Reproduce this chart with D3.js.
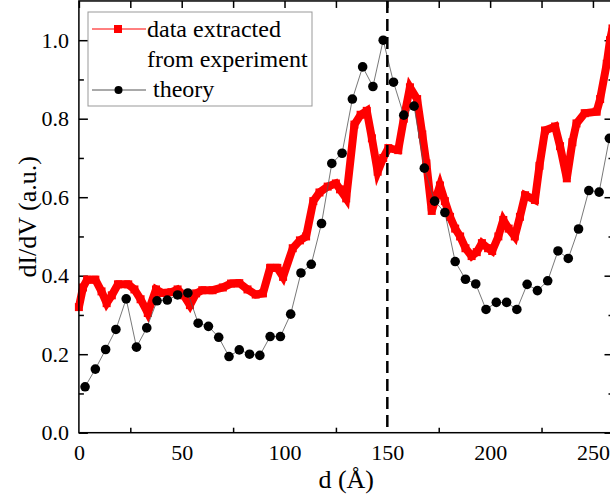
<!DOCTYPE html>
<html lang="en">
<head>
  <meta charset="utf-8">
  <title>dI/dV vs d</title>
  <script src="https://cdn.jsdelivr.net/npm/d3@7"></script>
  <style>
    body { margin: 0; background: #fff; }
    svg { display: block; font-family: "Liberation Serif", "Times New Roman", serif; }
    .axis path { display: none; }
    .axis line { stroke: #000; stroke-width: 1.5; }
    .axis text { font-size: 22px; fill: #000; font-family: "Liberation Serif", "Times New Roman", serif; }
  </style>
</head>
<body>
<script>
  // experiment (red, dense squares)
  const expX = [0, 2, 4, 8, 11, 13.5, 16, 19, 24, 27, 30, 33.5, 37.5, 40.5, 45, 48, 51, 54, 57, 60,
    65, 70, 74, 78, 82, 86, 89.5, 93, 96.5, 99.3, 104, 107.5, 110.5, 114, 117, 121, 125, 127, 130, 134,
    137, 140, 142.5, 145.3, 148, 150.5, 155.3, 158, 161, 164.5, 167, 169, 171.6, 175.6, 178, 180.5, 183, 185.4, 188, 191,
    193.5, 196, 199, 201, 204, 206.4, 209, 212, 214.5, 217, 221.8, 224, 226.7, 231.6, 234, 237.3, 240, 242, 246, 251.8,
    253.5, 256.7, 258.3, 259.5];
  const expY = [0.32, 0.37, 0.39, 0.39, 0.36, 0.33, 0.35, 0.378, 0.378, 0.365, 0.34, 0.305, 0.365, 0.356, 0.358, 0.365, 0.35, 0.325, 0.355, 0.363,
    0.363, 0.37, 0.38, 0.381, 0.365, 0.352, 0.355, 0.42, 0.42, 0.397, 0.47, 0.49, 0.5, 0.59, 0.612, 0.627, 0.635, 0.62, 0.597, 0.785,
    0.81, 0.82, 0.75, 0.665, 0.7, 0.725, 0.72, 0.8, 0.88, 0.85, 0.76, 0.686, 0.565, 0.63, 0.59, 0.55, 0.52, 0.5, 0.47, 0.45,
    0.46, 0.483, 0.47, 0.463, 0.5, 0.542, 0.52, 0.5, 0.55, 0.605, 0.593, 0.68, 0.77, 0.78, 0.73, 0.648, 0.74, 0.788, 0.814, 0.818,
    0.85, 0.94, 1.0, 1.03];

  // theory (black dots)
  const theoryX = [3, 8, 13, 18, 23, 28, 33, 38, 43, 48, 53, 58, 63, 68, 73, 78, 83, 88, 93, 98,
    103, 108, 113, 118, 123, 128, 133, 138, 143, 148, 153, 158, 163, 168, 173, 178, 183, 188, 193, 198,
    203, 208, 213, 218, 223, 228, 233, 238, 243, 248, 253, 258];
  const theoryY = [0.117, 0.162, 0.212, 0.263, 0.341, 0.218, 0.267, 0.336, 0.338, 0.351, 0.356, 0.279, 0.271, 0.243, 0.194, 0.211, 0.2, 0.197, 0.245, 0.245,
    0.302, 0.407, 0.429, 0.533, 0.686, 0.712, 0.85, 0.932, 0.882, 1.0, 0.893, 0.809, 0.832, 0.674, 0.59, 0.561, 0.436, 0.391, 0.379, 0.314,
    0.332, 0.332, 0.314, 0.378, 0.362, 0.387, 0.463, 0.444, 0.519, 0.617, 0.613, 0.75];

  const xMajor = [0, 50, 100, 150, 200, 250];
  const xMinor = [25, 75, 125, 175, 225];
  const yMajor = [0, 0.2, 0.4, 0.6, 0.8, 1.0];
  const yMinor = [0.1, 0.3, 0.5, 0.7, 0.9];
  const markerX = 150;

  const w = 610, h = 498;
  const pLeft = 78.9, pRight = 613.5, pTop = 0.95, pBottom = 432.7;

  const x = d3.scaleLinear().domain([0, 260]).range([pLeft, pRight]);
  const y = d3.scaleLinear().domain([0, 1.1]).range([pBottom, pTop]);

  const svg = d3.select("body").append("svg")
    .attr("width", w)
    .attr("height", h);

  // ticks (inward)
  svg.append("g").attr("class", "axis")
    .attr("transform", "translate(0," + pBottom + ")")
    .call(d3.axisBottom(x).tickValues(xMajor).tickSize(0).tickPadding(11.5));
  svg.append("g").attr("class", "axis")
    .attr("transform", "translate(0," + pBottom + ")")
    .call(d3.axisBottom(x).tickValues(xMinor).tickSize(-5).tickFormat(""));
  svg.append("g").attr("class", "axis")
    .attr("transform", "translate(0," + pTop + ")")
    .call(d3.axisTop(x).tickValues(xMajor.concat(xMinor)).tickSize(-7).tickFormat(""));

  svg.append("g").attr("class", "axis")
    .attr("transform", "translate(" + pLeft + ",0)")
    .call(d3.axisLeft(y).tickValues(yMajor).tickSize(-9).tickPadding(10).tickFormat(d3.format(".1f")));
  svg.append("g").attr("class", "axis")
    .attr("transform", "translate(" + pLeft + ",0)")
    .call(d3.axisLeft(y).tickValues(yMinor).tickSize(-5).tickFormat(""));
  svg.append("g").attr("class", "axis")
    .attr("transform", "translate(" + pRight + ",0)")
    .call(d3.axisRight(y).tickValues(yMajor).tickSize(-9).tickFormat(""));
  svg.append("g").attr("class", "axis")
    .attr("transform", "translate(" + pRight + ",0)")
    .call(d3.axisRight(y).tickValues(yMinor).tickSize(-5).tickFormat(""));

  // experiment curve
  const expData = expX.map(function (d, i) { return [d, expY[i]]; });
  const line = d3.line()
    .x(function (d) { return x(d[0]); })
    .y(function (d) { return y(d[1]); });

  svg.append("path")
    .datum(expData)
    .attr("fill", "none")
    .attr("stroke", "#ff0000")
    .attr("stroke-width", 8)
    .attr("d", line);
  svg.selectAll("rect.exp")
    .data(expData)
    .enter().append("rect")
    .attr("class", "exp")
    .attr("x", function (d) { return x(d[0]) - 4; })
    .attr("y", function (d) { return y(d[1]) - 4; })
    .attr("width", 8)
    .attr("height", 8)
    .attr("fill", "#ff0000");

  // theory curve
  const thData = theoryX.map(function (d, i) { return [d, theoryY[i]]; });
  svg.append("path")
    .datum(thData)
    .attr("fill", "none")
    .attr("stroke", "#555")
    .attr("stroke-width", 0.8)
    .attr("d", line);
  svg.selectAll("circle.th")
    .data(thData)
    .enter().append("circle")
    .attr("class", "th")
    .attr("cx", function (d) { return x(d[0]); })
    .attr("cy", function (d) { return y(d[1]); })
    .attr("r", 4.8)
    .attr("fill", "#000");

  // dashed marker
  svg.append("line")
    .attr("x1", x(markerX)).attr("x2", x(markerX))
    .attr("y1", y(1.1)).attr("y2", y(0))
    .attr("stroke", "#000")
    .attr("stroke-width", 2.5)
    .attr("stroke-dasharray", "12,6");

  // frame
  svg.append("rect")
    .attr("x", pLeft).attr("y", pTop)
    .attr("width", pRight - pLeft).attr("height", pBottom - pTop)
    .attr("fill", "none")
    .attr("stroke", "#000")
    .attr("stroke-width", 1.5);

  // legend
  const lg = svg.append("g");
  lg.append("rect")
    .attr("x", 88).attr("y", 12).attr("width", 224).attr("height", 94)
    .attr("fill", "#fff").attr("stroke", "#999").attr("stroke-width", 1);
  lg.append("line").attr("x1", 92).attr("x2", 146).attr("y1", 29).attr("y2", 29)
    .attr("stroke", "#ff0000").attr("stroke-width", 1);
  lg.append("rect").attr("x", 114).attr("y", 25).attr("width", 8).attr("height", 8)
    .attr("fill", "#ff0000");
  lg.append("line").attr("x1", 92).attr("x2", 146).attr("y1", 90).attr("y2", 90)
    .attr("stroke", "#555").attr("stroke-width", 1);
  lg.append("circle").attr("cx", 118.5).attr("cy", 90).attr("r", 4)
    .attr("fill", "#000");
  const legendText = [["data extracted", 147, 37], ["from experiment", 147, 67], ["theory", 153, 97]];
  lg.selectAll("text")
    .data(legendText)
    .enter().append("text")
    .attr("x", function (d) { return d[1]; })
    .attr("y", function (d) { return d[2]; })
    .attr("font-size", "24px")
    .text(function (d) { return d[0]; });

  // axis titles
  svg.append("text")
    .attr("x", (pLeft + pRight) / 2)
    .attr("y", 488)
    .attr("text-anchor", "middle")
    .attr("font-size", "26px")
    .text("d (Å)");
  svg.append("text")
    .attr("transform", "translate(36," + (pTop + pBottom) / 2 + ") rotate(-90)")
    .attr("text-anchor", "middle")
    .attr("font-size", "26px")
    .text("dI/dV (a.u.)");
</script>
</body>
</html>
